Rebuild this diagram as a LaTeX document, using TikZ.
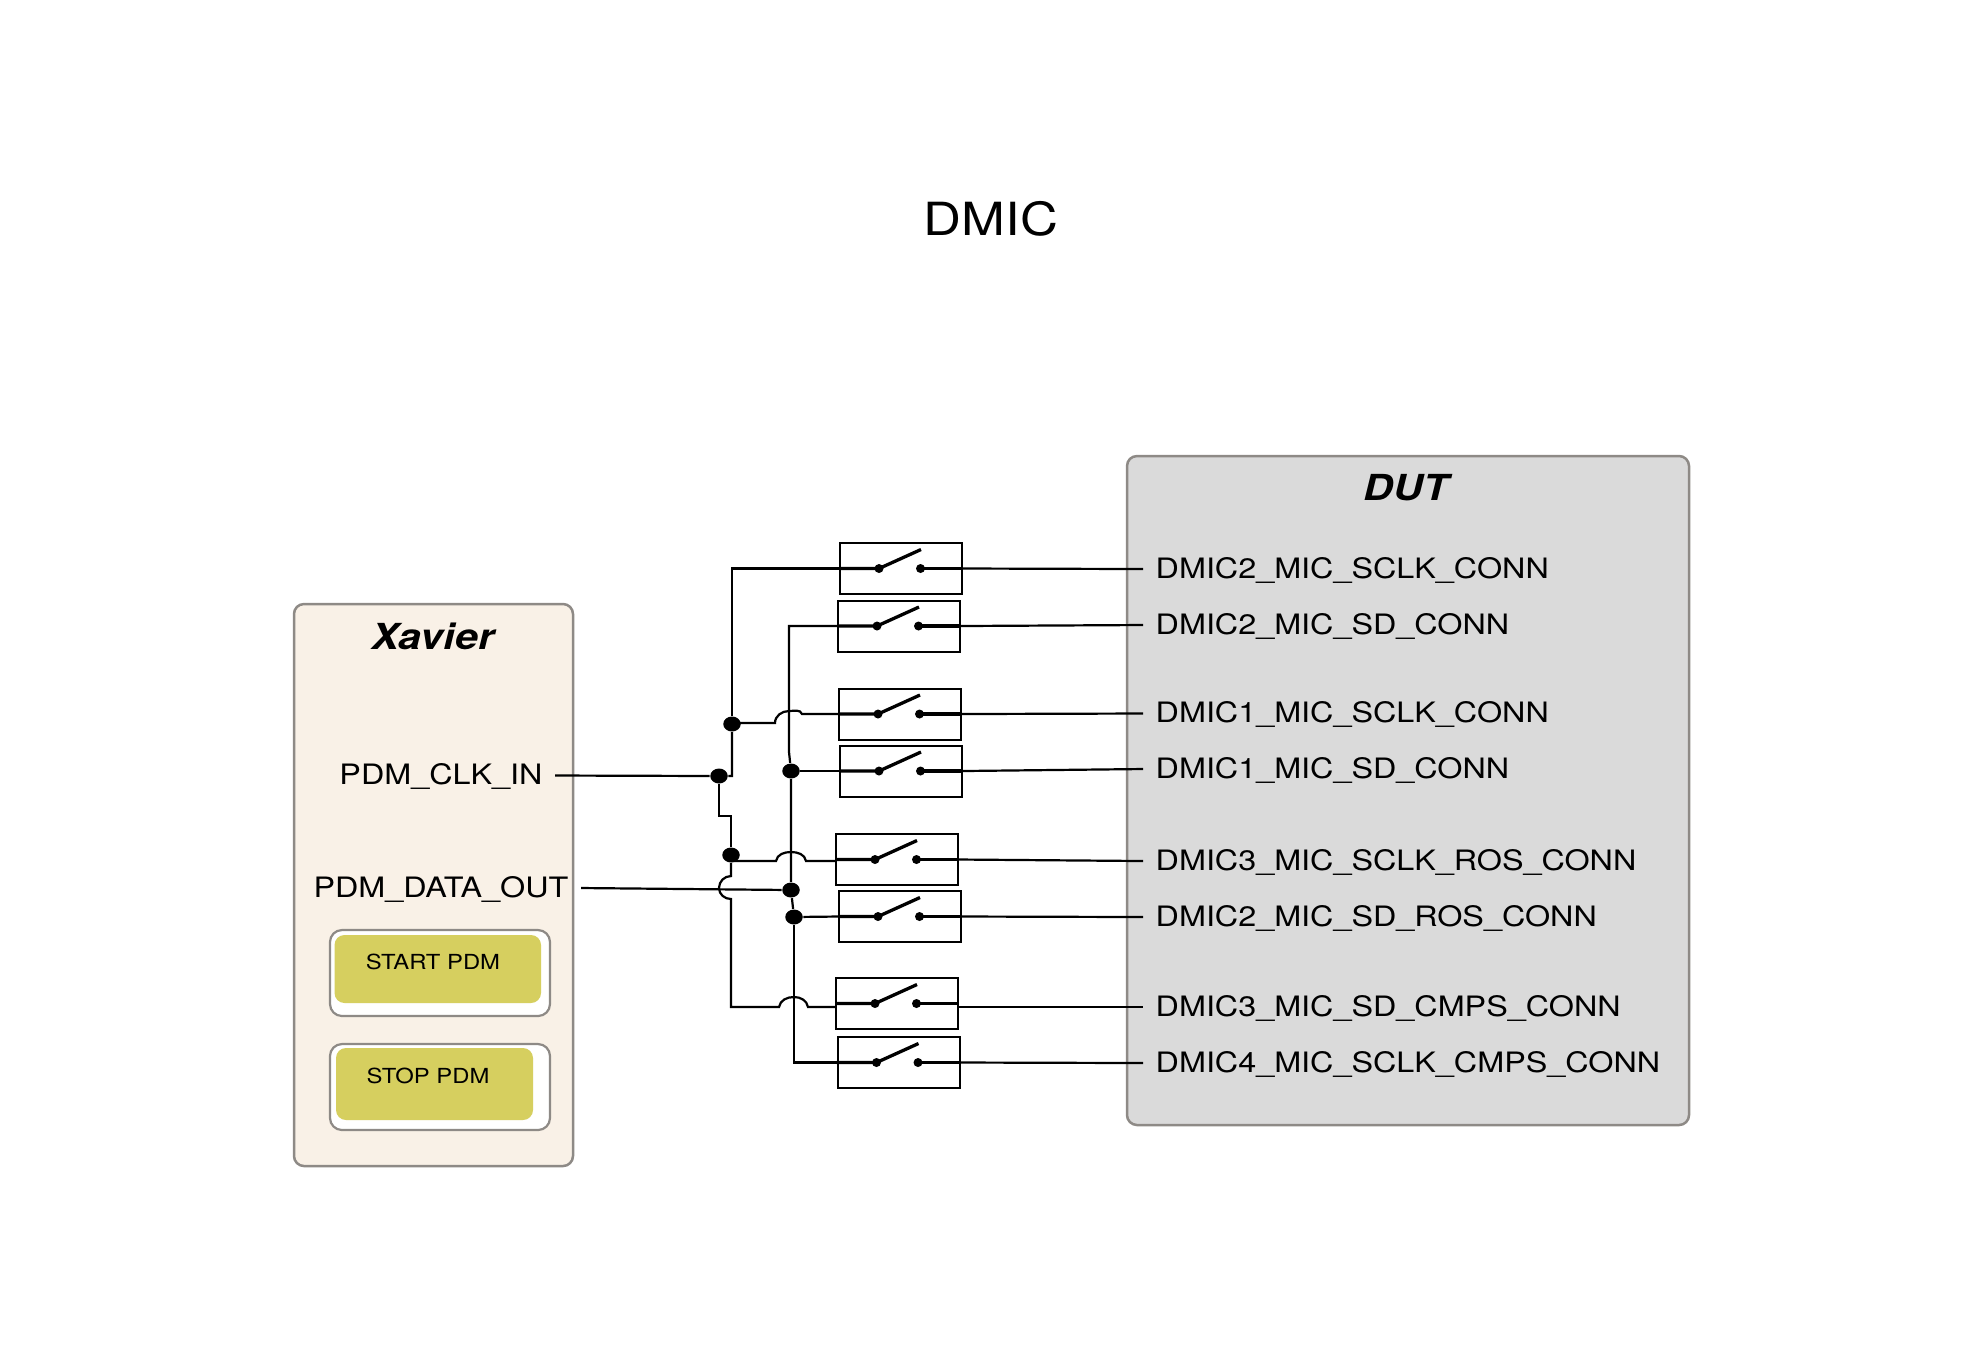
\documentclass[tikz,border=0pt]{standalone}
\usepackage{fontspec}
\setmainfont[FakeStretch=1.15]{TeX Gyre Heros}
\usetikzlibrary{shapes.geometric}
\definecolor{xavierfill}{HTML}{F9F1E7}
\definecolor{dutfill}{HTML}{DADADA}
\definecolor{boxline}{HTML}{8E8A86}
\definecolor{btnfill}{HTML}{D6CF5F}
\tikzset{
  blockbox/.style={draw=boxline,line width=0.025cm,rounded corners=0.1cm},
  btnouter/.style={draw=boxline,line width=0.022cm,fill=white,rounded corners=0.12cm},
  btninner/.style={fill=btnfill,draw=none,rounded corners=0.1cm},
  swbox/.style={draw,line width=0.02cm,minimum width=1.22cm,minimum height=0.51cm,inner sep=0pt},
  junction/.style={ellipse,fill=black,inner sep=0pt,minimum width=0.175cm,minimum height=0.15cm},
  wire/.style={line width=0.022cm},
  signal/.style={font=\fontsize{8}{10}\selectfont,inner sep=0.12cm,text height=5.75pt,text depth=0.6pt},
  btntext/.style={font=\fontsize{5.9}{7}\selectfont,inner sep=0pt},
  blocktitle/.style={font=\fontsize{10.2}{12}\selectfont\bfseries\itshape,inner sep=0pt}
}
\begin{document}
\begin{tikzpicture}
\useasboundingbox (0,0) rectangle (19.87,-13.5);
\node (title) at (9.91,-2.19) {\fontsize{13}{16}\selectfont DMIC};

% blocks
\draw[blockbox,fill=xavierfill] (2.94,-6.04) rectangle (5.73,-11.66);
\draw[blockbox,fill=dutfill] (11.27,-4.56) rectangle (16.89,-11.25);
\node[blocktitle] (xavier) at (4.33,-6.36) {Xavier};
\node[blocktitle] (dut) at (14.06,-4.88) {DUT};

% buttons
\draw[btnouter] (3.30,-9.30) rectangle (5.50,-10.16);
\fill[btninner] (3.345,-9.35) rectangle (5.41,-10.03);
\node[btntext] (start) at (4.33,-9.62) {START PDM};
\draw[btnouter] (3.30,-10.44) rectangle (5.50,-11.30);
\fill[btninner] (3.36,-10.48) rectangle (5.33,-11.20);
\node[btntext] (stop) at (4.28,-10.76) {STOP PDM};

\node[signal] (clk) at (4.41,-7.755) {PDM\_CLK\_IN};
\node[signal] (data) at (4.41,-8.88) {PDM\_DATA\_OUT};

% switches
\foreach \n/\cx/\cy in {1/9.01/-5.685,2/8.99/-6.26,3/9.00/-7.14,4/9.01/-7.71,5/8.97/-8.595,6/9.00/-9.165,7/8.97/-10.035,8/8.985/-10.625}{
  \node[swbox] (s\n) at (\cx,\cy) {};
  \draw[line width=0.033cm] (s\n.west) -- ++(0.40,0) -- ++(0.42,0.19);
  \draw[line width=0.033cm] (s\n.west) ++(0.815,0) -- (s\n.east);
  \fill (s\n.west) ++(0.40,0) circle (0.045);
  \fill (s\n.west) ++(0.815,0) circle (0.045);
}

% connector labels
\foreach \n/\cy/\txt in {1/-5.69/DMIC2\_MIC\_SCLK\_CONN,2/-6.25/DMIC2\_MIC\_SD\_CONN,3/-7.135/DMIC1\_MIC\_SCLK\_CONN,4/-7.69/DMIC1\_MIC\_SD\_CONN,5/-8.61/DMIC3\_MIC\_SCLK\_ROS\_CONN,6/-9.17/DMIC2\_MIC\_SD\_ROS\_CONN,7/-10.07/DMIC3\_MIC\_SD\_CMPS\_CONN,8/-10.63/DMIC4\_MIC\_SCLK\_CMPS\_CONN}{
  \node[signal,anchor=west] (d\n) at (11.43,\cy) {\txt};
}

% junctions
\node[junction] (j1) at (7.19,-7.76) {};
\node[junction] (j2) at (7.32,-7.24) {};
\node[junction] (j3) at (7.91,-7.71) {};
\node[junction] (j4) at (7.91,-8.90) {};
\node[junction] (j5) at (7.94,-9.17) {};
\node[junction] (j6) at (7.31,-8.55) {};

\coordinate (h3) at (8.02,-7.14);
\coordinate (h5) at (8.06,-8.61);
\coordinate (h7) at (8.08,-10.07);

% wires to the switches
\draw[wire] (clk.east) -- (j1) -- (7.32,-7.76) -- (j2);
\draw[wire] (j2) |- (s1.west);
\draw[wire] (7.32,-7.23) -- (7.75,-7.23) to[out=90,in=180] (7.89,-7.11) to[out=0,in=110] (h3) -- (s3.west);
\draw[wire] (j1) -- (7.19,-8.16) -- (7.31,-8.16) -- (j6);
\draw[wire] (j6 |- h5) -- (7.76,-8.61) to[out=80,in=180] (7.91,-8.52) to[out=0,in=100] (h5) -- (h5 -| s5.west);
\draw[wire] (j6) -- (7.31,-8.76) to[out=180,in=90] (7.19,-8.88) to[out=-90,in=180] (7.31,-8.99) -- (7.31,-10.07) -- (7.79,-10.07) to[out=80,in=180] (7.94,-9.97) to[out=0,in=100] (h7) -- (h7 -| s7.west);
\draw[wire] (s2.west) -| (7.89,-7.52) -- (j3);
\draw[wire] (j3) -- (s4.west);
\draw[wire] (j3) -- (j4) -- (j5);
\draw[wire] (j5) -- (s6.west);
\draw[wire] (j5) |- (s8.west);
\draw[wire] (data.east) -- (j4);

% wires to the connectors
\foreach \n in {1,2,3,4,5,6,8}{
  \draw[wire] (s\n.east) -- (d\n.west);
}
\draw[wire] (s7.east |- h7) -- (d7.west);
\end{tikzpicture}
\end{document}
